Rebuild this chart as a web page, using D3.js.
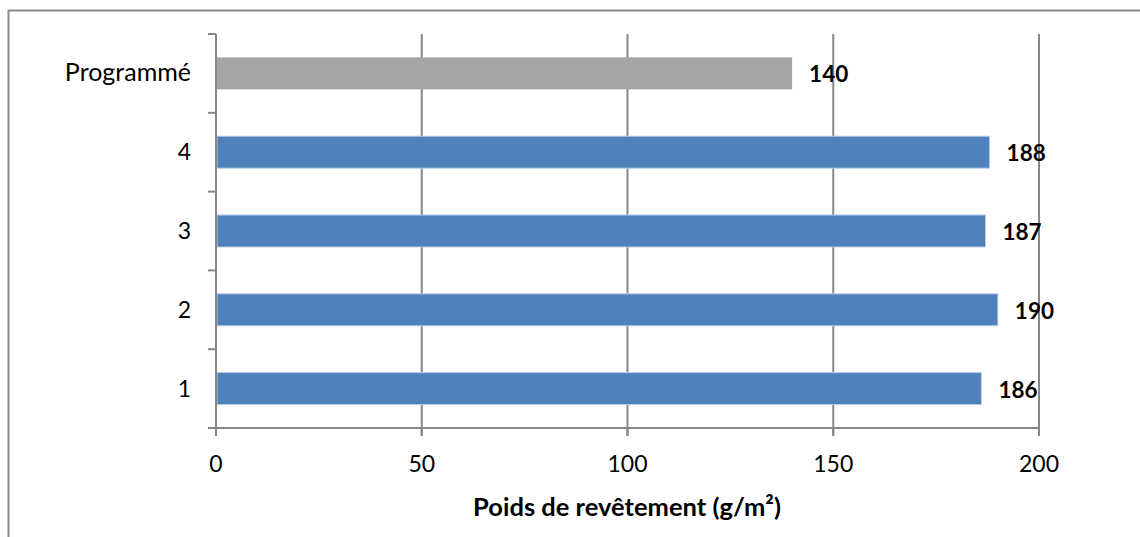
<!DOCTYPE html>
<html><head><meta charset="utf-8">
<script src="https://cdn.jsdelivr.net/npm/d3@7"></script>
<style>
body{margin:0;background:#fff;}
svg text{font-family:Lato,"Open Sans",sans-serif;fill:#000;}
</style></head><body>
<svg id="c" width="1140" height="537"></svg>
<script>
const categories = ["Programmé","4","3","2","1"];
const values = [140,188,187,190,186];
const barColors = ["#A5A5A5","#4F81BD","#4F81BD","#4F81BD","#4F81BD"];
const xTicks = [0,50,100,150,200];
const xTitle = "Poids de revêtement (g/m²)";

const svg = d3.select("#c");
svg.append("rect").attr("x",8.5).attr("y",10.5).attr("width",1140).attr("height",540)
  .attr("fill","none").attr("stroke","#898989").attr("stroke-width",2);

const L=216, R=1039, T=34, B=428;
const x = d3.scaleLinear().domain([0,200]).range([L,R]);
const y = d3.scaleBand().domain(categories).range([T,B]).paddingInner(0.594).paddingOuter(0.297);
const gridColor="#878787";

// gridlines
svg.append("g").selectAll("line").data(xTicks.filter(d=>d>0)).join("line")
  .attr("x1",d=>x(d)).attr("x2",d=>x(d)).attr("y1",T).attr("y2",B+8)
  .attr("stroke",gridColor).attr("stroke-width",2);

// bars
svg.append("g").selectAll("rect").data(values).join("rect")
  .attr("x",x(0)+1).attr("y",(d,i)=>y(categories[i]))
  .attr("width",d=>x(d)-x(0)-1).attr("height",y.bandwidth())
  .attr("fill",(d,i)=>barColors[i])
  .attr("stroke",(d,i)=>i===0?"none":"#b9cde5").attr("stroke-width",1);

// x axis
svg.append("line").attr("x1",L-8).attr("x2",R).attr("y1",B).attr("y2",B).attr("stroke",gridColor).attr("stroke-width",2);
svg.append("g").selectAll("line").data(xTicks).join("line")
  .attr("x1",d=>x(d)).attr("x2",d=>x(d)).attr("y1",B).attr("y2",B+8)
  .attr("stroke",gridColor).attr("stroke-width",2);
svg.append("g").selectAll("text").data(xTicks).join("text")
  .attr("x",d=>x(d)).attr("y",472).attr("text-anchor","middle")
  .attr("font-size",23).text(d=>d);

// y axis
svg.append("line").attr("x1",L).attr("x2",L).attr("y1",T).attr("y2",B+8).attr("stroke",gridColor).attr("stroke-width",2);
const bounds = categories.map(c=>y(c)-y.step()*y.paddingInner()/2).concat([B]);
svg.append("g").selectAll("line").data(bounds).join("line")
  .attr("x1",L-8).attr("x2",L).attr("y1",d=>d).attr("y2",d=>d)
  .attr("stroke",gridColor).attr("stroke-width",2);
svg.append("g").selectAll("text").data(categories).join("text")
  .attr("x",191).attr("y",c=>y(c)+y.bandwidth()/2+8).attr("text-anchor","end")
  .attr("font-size",c=>isNaN(+c)?25:23).text(c=>c);

// data labels
svg.append("g").selectAll("text").data(values).join("text")
  .attr("x",d=>x(d)+17).attr("y",(d,i)=>y(categories[i])+y.bandwidth()/2+9)
  .attr("font-size",22.5).attr("font-weight","bold").text(d=>d);

// title
svg.append("text").attr("x",627).attr("y",516).attr("text-anchor","middle")
  .attr("font-size",25.5).attr("font-weight","bold").text(xTitle);
</script></body></html>
